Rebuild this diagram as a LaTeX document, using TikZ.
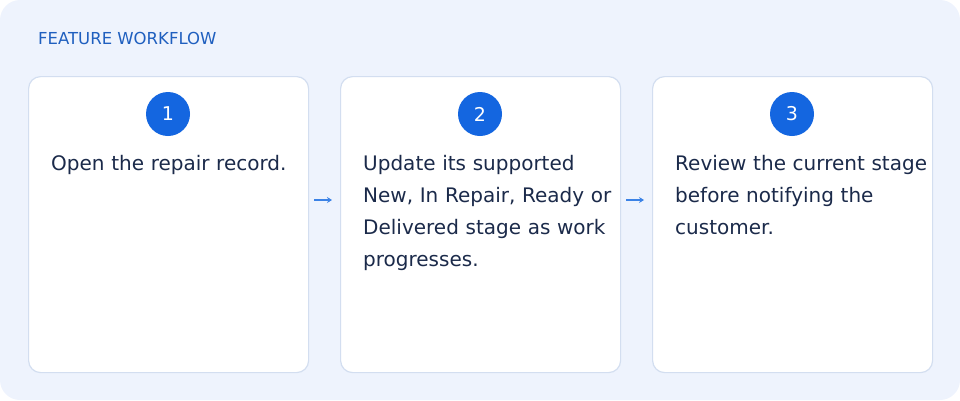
\documentclass[tikz,border=0pt]{standalone}
\usepackage{fontspec}
\setmainfont{DejaVu Sans}
\usetikzlibrary{arrows.meta}
\definecolor{bg}{HTML}{EEF3FD}
\definecolor{bd}{HTML}{D3DEF0}
\definecolor{blu}{HTML}{1466E0}
\definecolor{ttl}{HTML}{1F5FBF}
\definecolor{txt}{HTML}{1B2A4A}
\definecolor{arr}{HTML}{3B82E6}
\begin{document}
\begin{tikzpicture}[x=1pt,y=-1pt,
 card/.style={draw=bd,line width=1.2pt,fill=white,rounded corners=12pt,minimum width=280pt,minimum height=296pt,anchor=north west,inner sep=0pt},
 num/.style={circle,fill=blu,minimum size=44pt,inner sep=0pt,text=white,font=\fontsize{19}{22}\selectfont},
 body/.style={anchor=north west,text width=270pt,align=left,inner sep=0pt,text=txt,font=\fontsize{20}{32}\selectfont},
 flowarrow/.style={-{Stealth[length=5pt,width=6pt]},draw=arr,line width=1.3pt}]
\useasboundingbox (0,0) rectangle (960,400);
\fill[bg,rounded corners=20pt] (0,0) rectangle (960,400);
\node[anchor=west,inner sep=0pt,text=ttl,font=\fontsize{16.5}{18}\selectfont] (title) at (38,38) {FEATURE WORKFLOW};
\foreach \i/\x in {1/28,2/340,3/652}{
 \node[card] (c\i) at (\x,76) {};
 \node[num] (n\i) at (\x+140,114) {\i};
}
\node[body] (t1) at (51,155) {Open the repair record.};
\node[body] (t2) at (363,155) {Update its supported\\New, In Repair, Ready or\\Delivered stage as work\\progresses.};
\node[body] (t3) at (675,155) {Review the current stage\\before notifying the\\customer.};
\coordinate (a1s) at (314,200); \coordinate (a1e) at (332,200);
\coordinate (a2s) at (626,200); \coordinate (a2e) at (644,200);
\draw[flowarrow] (a1s) -- (a1e);
\draw[flowarrow] (a2s) -- (a2e);
\end{tikzpicture}
\end{document}
